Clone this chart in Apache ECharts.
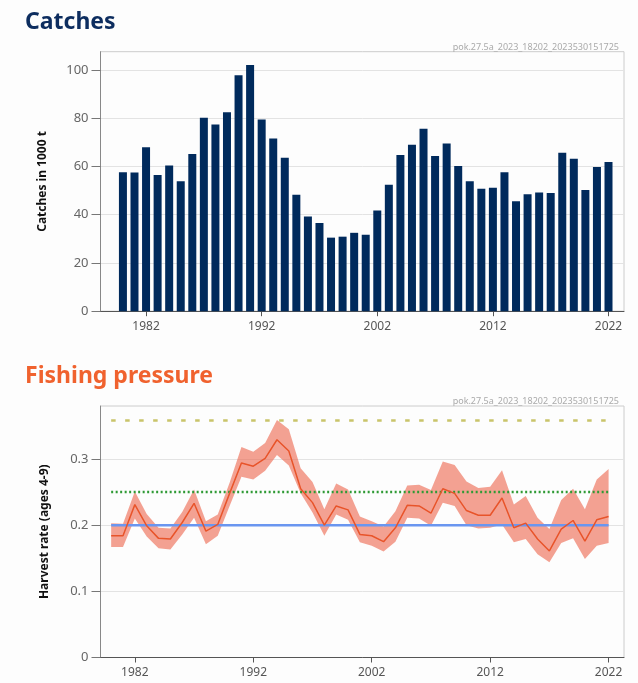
<!DOCTYPE html>
<html><head><meta charset="utf-8">
<script src="https://cdn.jsdelivr.net/npm/echarts@6/dist/echarts.min.js"></script>
<style>html,body{margin:0;padding:0;background:#fdfdfd}#c{width:638px;height:683px}</style>
</head><body><div id="c"></div>
<script>
const years = [1980,1981,1982,1983,1984,1985,1986,1987,1988,1989,1990,1991,1992,1993,1994,1995,1996,1997,1998,1999,2000,2001,2002,2003,2004,2005,2006,2007,2008,2009,2010,2011,2012,2013,2014,2015,2016,2017,2018,2019,2020,2021,2022];
const catches = [57.6,57.5,68.0,56.5,60.4,53.9,65.2,80.2,77.4,82.5,97.8,102.1,79.5,71.6,63.6,48.3,39.3,36.6,30.5,30.9,32.5,31.7,41.8,52.4,64.8,69.0,75.6,64.4,69.5,60.2,53.9,50.8,51.2,57.6,45.6,48.5,49.2,49.0,65.7,63.2,50.3,59.8,61.9];
const harvestRate = [0.184,0.184,0.231,0.199,0.180,0.179,0.204,0.233,0.191,0.201,0.248,0.294,0.289,0.301,0.329,0.312,0.255,0.234,0.200,0.229,0.223,0.186,0.184,0.175,0.196,0.230,0.229,0.218,0.255,0.248,0.222,0.215,0.215,0.241,0.196,0.203,0.179,0.161,0.194,0.207,0.176,0.208,0.213];
const harvestHigh = [0.203,0.202,0.251,0.217,0.196,0.195,0.220,0.254,0.206,0.216,0.264,0.318,0.311,0.324,0.359,0.345,0.286,0.265,0.224,0.263,0.254,0.213,0.206,0.198,0.221,0.260,0.261,0.253,0.296,0.291,0.266,0.256,0.258,0.283,0.231,0.244,0.211,0.194,0.238,0.255,0.224,0.269,0.285];
const harvestLow = [0.167,0.167,0.210,0.183,0.165,0.163,0.186,0.211,0.171,0.184,0.229,0.273,0.269,0.282,0.306,0.290,0.248,0.219,0.184,0.216,0.208,0.174,0.169,0.160,0.175,0.211,0.210,0.199,0.234,0.229,0.200,0.195,0.196,0.201,0.174,0.179,0.156,0.144,0.173,0.180,0.149,0.169,0.173];
const refYears = [1980, 2022];
const refTarget = 0.2;
const refGreen = 0.25;
const refYellow = 0.358;
const yearTicks = [1982, 1992, 2002, 2012, 2022];
const catchTicks = [0, 20, 40, 60, 80, 100];
const hrTicks = [0, 0.1, 0.2, 0.3];
const stamp = 'pok.27.5a_2023_18202_2023530151725';

const FONT = 'Noto Sans';
const chart = echarts.init(document.getElementById('c'), null, {renderer: 'canvas'});
const pair = (xs, ys) => xs.map((x, i) => [x, ys[i]]);
const refLine = v => refYears.map(y => [y, v]);

const xAxisBase = (gi, min, max) => ({
  type: 'value', gridIndex: gi, min: min, max: max,
  axisLine: {show: true, onZero: false, lineStyle: {color: '#555', width: 1}},
  axisTick: {show: true, customValues: yearTicks, length: 5, lineStyle: {color: '#555'}},
  axisLabel: {customValues: yearTicks, color: '#555', fontSize: 12, fontFamily: FONT, margin: 9, formatter: v => String(v)},
  splitLine: {show: false}
});
const yAxisBase = (gi, max, ticks, name, gap) => ({
  type: 'value', gridIndex: gi, min: 0, max: max,
  interval: ticks[1] - ticks[0],
  name: name, nameLocation: 'middle', nameGap: gap,
  nameTextStyle: {fontWeight: 'bold', color: '#111', fontSize: 12, fontFamily: FONT},
  axisLine: {show: true, lineStyle: {color: '#888', width: 1}},
  axisTick: {show: true, customValues: ticks, length: 9, lineStyle: {color: '#777'}},
  axisLabel: {customValues: ticks, color: '#666', fontSize: 13, fontFamily: FONT, margin: 12},
  splitLine: {show: true, lineStyle: {color: '#e3e3e3', width: 1}}
});

chart.setOption({
  animation: false,
  title: [
    {text: 'Catches', left: 20, top: 6, textStyle: {color: '#0d2d5f', fontSize: 23, fontWeight: 'bold', fontFamily: FONT}},
    {text: stamp, right: 14, top: 38, textStyle: {color: '#aaa', fontSize: 9, fontWeight: 'normal', fontFamily: FONT}},
    {text: 'Fishing pressure', left: 20, top: 360, textStyle: {color: '#f0622e', fontSize: 23, fontWeight: 'bold', fontFamily: FONT}},
    {text: stamp, right: 14, top: 392, textStyle: {color: '#aaa', fontSize: 9, fontWeight: 'normal', fontFamily: FONT}}
  ],
  grid: [
    {left: 100.5, right: 14, top: 51.7, height: 259.5, show: true, borderColor: '#ccc', backgroundColor: 'transparent'},
    {left: 100.5, right: 14, top: 406, height: 251.5, show: true, borderColor: '#ccc', backgroundColor: 'transparent'}
  ],
  xAxis: [xAxisBase(0, 1978.06, 2023.34), xAxisBase(1, 1979.1, 2023.3)],
  yAxis: [
    yAxisBase(0, 107.6, catchTicks, 'Catches in 1000 t', 52),
    yAxisBase(1, 0.38, hrTicks, 'Harvest rate (ages 4-9)', 50)
  ],
  series: [
    {type: 'bar', xAxisIndex: 0, yAxisIndex: 0, data: pair(years, catches), barWidth: 8,
     itemStyle: {color: '#002a5c'}},
    {type: 'custom', xAxisIndex: 1, yAxisIndex: 1, silent: true,
     data: years.map((y, i) => [y, harvestLow[i], harvestHigh[i]]),
     encode: {x: 0, y: [1, 2]},
     renderItem: function (params, api) {
       if (params.dataIndex !== 0) return null;
       const up = years.map((y, i) => api.coord([y, harvestHigh[i]]));
       const lo = years.map((y, i) => api.coord([y, harvestLow[i]])).reverse();
       return {type: 'polygon', shape: {points: up.concat(lo)},
               style: {fill: 'rgba(238,105,80,0.62)'}};
     }},
    {type: 'line', xAxisIndex: 1, yAxisIndex: 1, data: refLine(refYellow), symbol: 'none',
     lineStyle: {color: '#c9c46a', width: 2.5, type: [4.5, 9.5]}},
    {type: 'line', xAxisIndex: 1, yAxisIndex: 1, data: refLine(refGreen), symbol: 'none',
     lineStyle: {color: '#2f9a35', width: 2.5, type: [2, 2.5]}},
    {type: 'line', xAxisIndex: 1, yAxisIndex: 1, data: refLine(refTarget), symbol: 'none',
     lineStyle: {color: '#6a96f0', width: 2.5}},
    {type: 'line', xAxisIndex: 1, yAxisIndex: 1, data: pair(years, harvestRate), symbol: 'none',
     lineStyle: {color: '#e8542a', width: 1.5}}
  ]
});
</script></body></html>
